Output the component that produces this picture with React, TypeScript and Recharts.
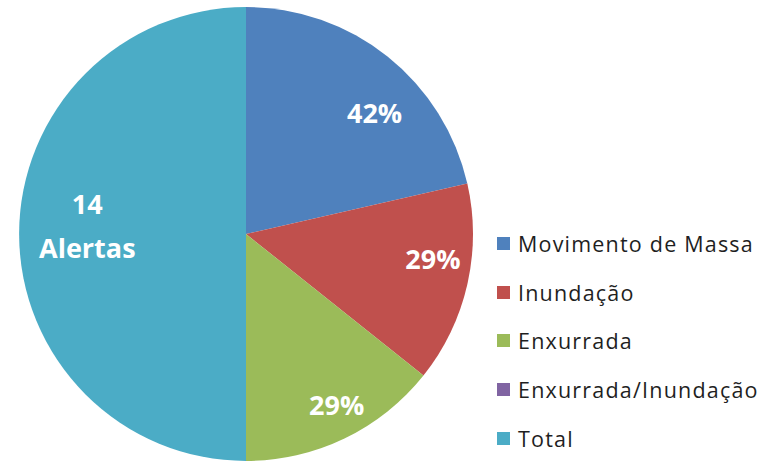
import { PieChart, Pie, Cell, Legend } from "recharts"

const categories = ["Movimento de Massa", "Inundação", "Enxurrada", "Enxurrada/Inundação", "Total"]
const alertCounts = [6, 4, 4, 0, 14]
const sharePct = [42, 29, 29, 0]
const colors = ["#4F81BD", "#C0504D", "#9BBB59", "#8064A2", "#4BACC6"]
const totalLabel = ["14", "Alertas"]

const TOTAL_INDEX = 4
const RAD = Math.PI / 180

// Excel "best fit" puts labels a bit off the mid angle
const labelPlacement = [
  { r: 0.78, da: -8 },
  { r: 0.83, da: 5.5 },
  { r: 0.85, da: 2.3 },
  { r: 0.8, da: 0 },
  { r: 0.7, da: -2.9 },
]

const data = categories.map((name, i) => ({ name, value: alertCounts[i], color: colors[i] }))

const labelFont = {
  fontFamily: "'Open Sans', sans-serif",
  fontWeight: 700,
  fontSize: 27,
  fill: "#ffffff",
}

function renderLabel(props: any) {
  const { cx, cy, midAngle, outerRadius, index, value } = props
  if (!value) return null
  const p = labelPlacement[index]
  const ang = (midAngle + p.da) * RAD
  const r = outerRadius * p.r
  const x = cx + r * Math.cos(ang)
  const y = cy - r * Math.sin(ang)
  if (index === TOTAL_INDEX) {
    return (
      <text x={x} y={y} textAnchor="middle" style={labelFont}>
        <tspan x={x} y={y - 22} dominantBaseline="central">{totalLabel[0]}</tspan>
        <tspan x={x} y={y + 22} dominantBaseline="central">{totalLabel[1]}</tspan>
      </text>
    )
  }
  return (
    <text x={x} y={y} textAnchor="middle" dominantBaseline="central" style={labelFont}>
      {sharePct[index]}%
    </text>
  )
}

function LegendList() {
  return (
    <div>
      {data.map((d) => (
        <div
          key={d.name}
          style={{
            display: "flex",
            alignItems: "center",
            height: 48.7,
            fontFamily: "'Open Sans', sans-serif",
            fontSize: 21.5,
            letterSpacing: 1.2,
            color: "#1f1f1f",
            whiteSpace: "nowrap",
          }}
        >
          <span style={{ width: 13, height: 13, background: d.color, marginRight: 8, flexShrink: 0 }} />
          {d.name}
        </div>
      ))}
    </div>
  )
}

export default function App() {
  return (
    <div style={{ position: "absolute", left: 0, top: 0, background: "#fff" }}>
      <PieChart width={761} height={462} margin={{ top: 0, right: 0, bottom: 0, left: 0 }}>
        <Pie
          data={data}
          dataKey="value"
          nameKey="name"
          cx={246}
          cy={234}
          outerRadius={227}
          startAngle={90}
          endAngle={-270}
          stroke="none"
          label={renderLabel}
          labelLine={false}
          isAnimationActive={false}
        >
          {data.map((d) => (
            <Cell key={d.name} fill={d.color} />
          ))}
        </Pie>
        <Legend
          content={() => <LegendList />}
          wrapperStyle={{ position: "absolute", left: 497, top: 219, width: 264 }}
        />
      </PieChart>
    </div>
  )
}
